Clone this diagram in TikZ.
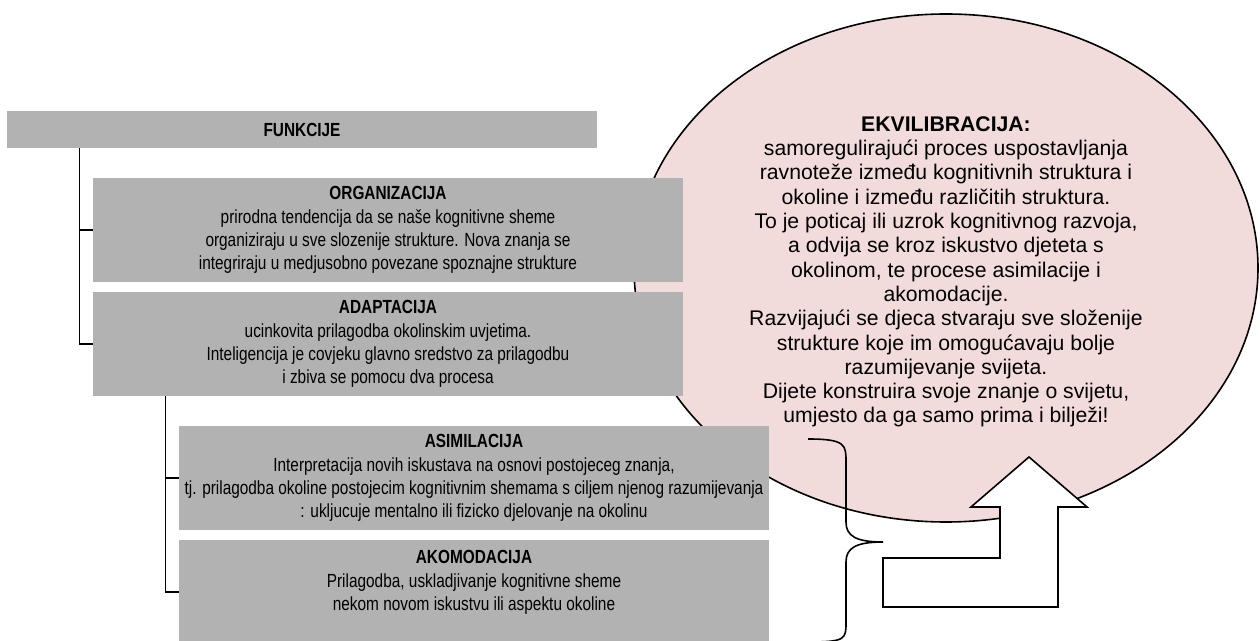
\documentclass[tikz,border=0pt]{standalone}
\usepackage{fontspec}
\setmainfont{Liberation Sans}
\newfontfamily\narrowfont{Liberation Sans}[FakeStretch=0.81]
\usetikzlibrary{shapes.geometric}
\definecolor{boxgray}{HTML}{B2B2B2}
\definecolor{eqpink}{HTML}{F2DCDB}
\tikzset{
  funkbox/.style={fill=boxgray, minimum width=295pt, minimum height=52pt, inner sep=0pt, align=center, font=\narrowfont\fontsize{9.5}{11.6}\selectfont},
  veza/.style={line width=0.6pt},
}
\begin{document}
\begin{tikzpicture}[x=0.5pt, y=-0.5pt]
\useasboundingbox (0,0) rectangle (1260,641);
\node[ellipse, draw, line width=0.8pt, fill=eqpink, minimum width=312pt, minimum height=254pt, inner sep=0pt] (ekvilibracija) at (946,268) {};
\node[align=center, inner sep=0pt, font=\fontsize{10.6}{12.15}\selectfont] (ekvtekst) at ([yshift=-2pt]ekvilibracija.center)
  {\textbf{EKVILIBRACIJA:}\\ samoregulirajući proces uspostavljanja\\ ravnoteže između kognitivnih struktura i\\ okoline i između različitih struktura.\\ To je poticaj ili uzrok kognitivnog razvoja,\\ a odvija se kroz iskustvo djeteta s\\ okolinom, te procese asimilacije i\\ akomodacije.\\ Razvijajući se djeca stvaraju sve složenije\\ strukture koje im omogućavaju bolje\\ razumijevanje svijeta.\\ Dijete konstruira svoje znanje o svijetu,\\ umjesto da ga samo prima i bilježi!};
\node[funkbox, minimum height=18.5pt] (funkcije) at (302,129.5) {\textbf{FUNKCIJE}};
\node[funkbox] (organizacija) at (388,230) {\textbf{ORGANIZACIJA}\\ prirodna tendencija da se naše kognitivne sheme\\ organiziraju u sve slozenije strukture. Nova znanja se\\ integriraju u medjusobno povezane spoznajne strukture};
\node[funkbox] (adaptacija) at (388,344) {\textbf{ADAPTACIJA}\\ ucinkovita prilagodba okolinskim uvjetima.\\ Inteligencija je covjeku glavno sredstvo za prilagodbu\\ i zbiva se pomocu dva procesa};
\node[funkbox] (asimilacija) at (474,478) {\textbf{ASIMILACIJA}\\ Interpretacija novih iskustava na osnovi postojeceg znanja,\\ tj. prilagodba okoline postojecim kognitivnim shemama s ciljem njenog razumijevanja\\ : ukljucuje mentalno ili fizicko djelovanje na okolinu};
\node[funkbox] (akomodacija) at (474,592) {\textbf{AKOMODACIJA}\\ Prilagodba, uskladjivanje kognitivne sheme\\ nekom novom iskustvu ili aspektu okoline\\ ~};
\draw[veza] ([xshift=36.5pt]funkcije.south west) |- (organizacija.west);
\draw[veza] ([xshift=36.5pt]funkcije.south west) |- (adaptacija.west);
\draw[veza] ([xshift=36.5pt]adaptacija.south west) |- (asimilacija.west);
\draw[veza] ([xshift=36.5pt]adaptacija.south west) |- (akomodacija.west);
\draw[line width=0.8pt] (808,439) .. controls (846,439) and (846,445) .. (846,462) -- (846,522) .. controls (846,536) and (856,542) .. (883,542) .. controls (856,542) and (846,548) .. (846,562) -- (846,622) .. controls (846,639) and (846,642) .. (808,642);
\draw[line width=0.8pt, fill=white] (883,558) -- (1000,558) -- (1000,507) -- (971,507) -- (1029,457) -- (1087,507) -- (1058,507) -- (1058,607) -- (883,607) -- cycle;
\end{tikzpicture}
\end{document}
